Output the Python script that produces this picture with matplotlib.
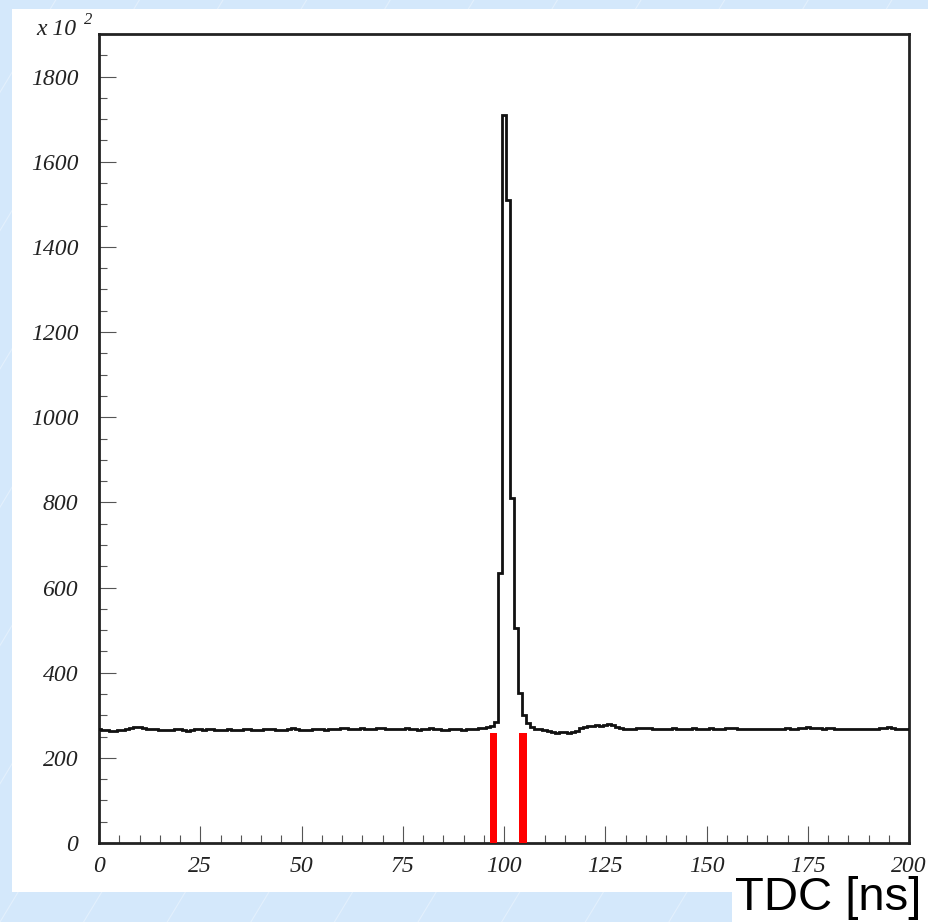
import matplotlib
matplotlib.use("Agg")
import matplotlib.pyplot as plt
import numpy as np
from matplotlib.patches import Rectangle
from matplotlib.ticker import MultipleLocator

# TDC histogram, counts in units of 10^2, one bin per ns centred on integer ns
tdc_ns = list(range(0, 201))
counts = [
    267, 266, 265, 264, 264, 265, 266, 268, 270, 272,
    272, 270, 268, 267, 267, 266, 266, 265, 266, 268,
    267, 265, 264, 266, 268, 267, 266, 267, 268, 266,
    265, 266, 267, 266, 265, 266, 268, 267, 266, 265,
    266, 267, 268, 267, 266, 265, 266, 268, 269, 267,
    266, 265, 266, 267, 268, 267, 266, 267, 268, 267,
    269, 270, 268, 267, 268, 269, 268, 267, 268, 270,
    269, 268, 267, 268, 267, 268, 269, 268, 267, 266,
    267, 268, 269, 268, 267, 266, 265, 267, 268, 267,
    266, 267, 268, 267, 269, 270, 272, 274, 285, 634,
    1710, 1510, 810, 505, 352, 300, 282, 272, 268, 267,
    266, 263, 260, 259, 260, 261, 259, 260, 264, 270,
    273, 275, 275, 276, 275, 276, 279, 276, 272, 269,
    268, 267, 268, 269, 270, 271, 270, 268, 268, 267,
    267, 268, 269, 268, 268, 267, 268, 269, 268, 267,
    268, 269, 268, 267, 268, 269, 271, 270, 268, 268,
    268, 268, 268, 268, 267, 267, 268, 268, 268, 268,
    269, 268, 268, 271, 269, 272, 270, 269, 271, 268,
    269, 270, 268, 267, 267, 267, 268, 268, 267, 267,
    267, 267, 268, 269, 270, 272, 270, 268, 267, 268,
    268,
]

# red timing-window markers
window_x = [97.3, 104.7]
window_h = [258, 258]

x_ticks = [0, 25, 50, 75, 100, 125, 150, 175, 200]
y_ticks = [0, 200, 400, 600, 800, 1000, 1200, 1400, 1600, 1800]

W, H = 929, 922
fig = plt.figure(figsize=(W / 100, H / 100), dpi=100)
fig.patch.set_facecolor('#d4e8fb')

# faint slide-background stripes
for k in range(-10, 30):
    x0 = k * 0.09
    fig.add_artist(plt.Line2D([x0, x0 + 0.6], [0, 1], transform=fig.transFigure,
                              color='white', lw=0.8, alpha=0.35, zorder=0))

# white panel and label box
fig.add_artist(Rectangle((12 / W, 1 - 892 / H), 1 - 12 / W, (892 - 9) / H,
                         transform=fig.transFigure, facecolor='white',
                         edgecolor='none', zorder=1))
fig.add_artist(Rectangle((732 / W, 0), 1 - 732 / W, 40 / H,
                         transform=fig.transFigure, facecolor='white',
                         edgecolor='none', zorder=1))

ax = fig.add_axes([99 / W, 1 - 843 / H, (909 - 99) / W, (843 - 34) / H])
ax.set_zorder(2)
ax.set_facecolor('white')

edges = np.append(np.array(tdc_ns) - 0.5, tdc_ns[-1] + 0.5)
ax.stairs(counts, edges, baseline=None, color='#111111', lw=2.0, zorder=3)
ax.bar(window_x, window_h, width=1.75, color='#ff0000', zorder=4)

ax.set_xlim(0, 200)
ax.set_ylim(0, 1900)
ax.set_xticks(x_ticks)
ax.set_yticks(y_ticks)
ax.xaxis.set_minor_locator(MultipleLocator(5))
ax.yaxis.set_minor_locator(MultipleLocator(50))

tick_font = dict(family='Liberation Serif', style='italic', size=17, color='#222222')
ax.set_xticklabels([str(t) for t in x_ticks], **tick_font)
ax.set_yticklabels([str(t) for t in y_ticks], **tick_font)

ax.tick_params(which='major', direction='in', length=12, width=0.8, color='#555555')
ax.tick_params(which='minor', direction='in', length=6, width=0.8, color='#555555')
ax.tick_params(axis='y', which='major', pad=15)
ax.tick_params(axis='x', which='major', pad=9)
for side in ['left', 'bottom', 'top', 'right']:
    ax.spines[side].set_linewidth(2.0)
    ax.spines[side].set_color('#222222')

fig.text(36 / W, 1 - 35 / H, 'x 10', family='Liberation Serif', style='italic',
         size=17, color='#222222', va='baseline', ha='left', zorder=5)
fig.text(84 / W, 1 - 24 / H, '2', family='Liberation Serif', style='italic',
         size=12, color='#222222', va='baseline', ha='left', zorder=5)

fig.text(921 / W, 1 - 910 / H, 'TDC [ns]', family='Liberation Sans', size=34,
         color='black', va='baseline', ha='right', zorder=5)

fig.savefig('out.png', dpi=100, facecolor=fig.get_facecolor())
